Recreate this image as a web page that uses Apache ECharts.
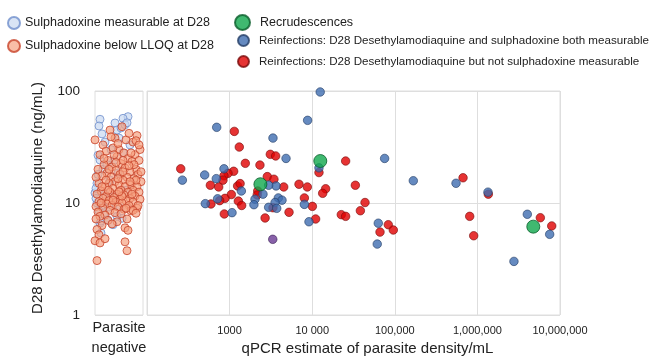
<!DOCTYPE html>
<html>
<head>
<meta charset="utf-8">
<script src="https://cdn.jsdelivr.net/npm/echarts@6/dist/echarts.min.js"></script>
<style>
  html, body { margin: 0; padding: 0; background: #fff; }
  #main { width: 661px; height: 363px; }
</style>
</head>
<body>
<div id="main"></div>
<script>
// parasite negative strip: [jitter, D28 DEAQ ng/mL]
var negMeasurable = [
  [5,55.9],[20,51.8],[33,59],[28,57],[4,48.7],[7,41.4],[22,44.8],[26,46.8],[30,50],
  [3,26.7],[5,24.2],[2,15],[0,12.3],[2,10],[15,16],[23,18.5],[5,6.6],[18,6.4],
  [12,7.1],[27,7.3],[6,5.4],[25,9],[6,6.9],[13,7],[9,8],[1,13.5],[3,18],[8,20],
  [16,30],[10,35],[24,38],[35,33],[19,24],[12,22],[28,28],[31,13],[1,11],[7,9.5],
  [20,11.5],[4,8.5],[10,12],[14,9.2],[22,7.6],[32,52]
];
var negBelowLLOQ = [
  [0,36.6],[8,33],[15,44.8],[20,38],[27,48],[31,36.6],[34,41.9],[38,35],[42,40],[24,30],
  [11,29],[18,31],[29,28],[40,27],[45,30],[5,27],[22,26],[33,25],[13,24],[37,23.5],
  [26,22.5],[44,24],[9,22],[17,21],[30,20.5],[41,20],[3,20],[21,19.5],[35,19],[12,18.5],
  [25,18],[43,18],[7,17.5],[16,17],[32,17],[39,16.5],[28,16],[20,15.5],[46,15.5],[4,15],
  [14,15],[24,14.5],[36,14.5],[10,14],[30,14],[42,14],[18,13.5],[26,13],[38,13],[6,12.8],
  [15,12.5],[33,12.5],[44,12.5],[22,12],[2,12],[29,11.8],[11,11.5],[40,11.5],[19,11.2],[35,11],
  [8,11],[25,10.8],[45,10.8],[14,10.5],[31,10.5],[4,10.3],[21,10.2],[38,10.2],[27,10],[12,9.8],
  [17,9.5],[34,9.5],[1,9.3],[23,9.2],[42,9],[8,9],[29,8.8],[15,8.6],[36,8.5],[3,8.3],
  [20,8.2],[26,8],[10,7.8],[5,7.6],[1,7.2],[13,7],[32,7.2],[22,6.8],[17,6.5],[7,6.3],
  [2,5.8],[4,5.2],[30,6],[33,5.7],[0,4.6],[5,4.4],[10,4.8],[30,4.5],[32,3.75],[2,3.06],
  [16,39],[23,34],[41,36],[44,33],[36,28],[19,27],[9,25],[28,24],[39,22],[14,20],
  [34,21.5],[23,16.5],[11,16],[41,16],[37,12],[27,11.5],[43,9.5],[38,8.6],[41,8.1],[6,10],
  [18,10.6],[31,9],[24,12.6],[13,13],[35,15.5],[28,19],[21,23],[7,14],[46,19],[1,17]
];

// parasite density (qPCR /mL) vs D28 DEAQ ng/mL
var recrudescences = [[2360,14.7],[12530,23.7],[4750000,6.15]];
var reinfBoth = [
  [12500,98],[8800,54.7],[698,47.4],[3350,38],[4820,25],[75300,25],[855,20.2],[268,16],
  [499,17.8],[690,16.5],[1388,12.8],[2536,12],[3650,14.2],[2970,14.4],[2030,10.8],[1970,9.66],
  [3890,11.1],[4310,10.6],[3550,10.1],[2970,9.15],[3720,8.96],[716,10.9],[508,9.87],[1070,8.2],
  [8040,9.72],[9140,6.8],[12080,20.6],[63100,6.6],[61300,4.3],
  [167500,15.8],[551000,15],[1343000,12.5],[4020000,7.93],[7500000,5.25],[2770000,3.01]
];
var reinfDeaqOnly = [
  [1140,43.6],[1310,31.6],[3110,27.2],[3610,26.3],[1550,22.6],[2330,21.8],[256,20.2],[25400,23.7],
  [1120,19.2],[957,18.4],[855,17.5],[831,16],[2860,17.2],[3440,16.3],[585,14.4],[738,13.9],
  [1250,14.2],[1340,14.9],[2190,12.8],[2160,11.8],[4520,13.9],[6920,14.7],[8730,13.9],[14550,13.4],
  [13390,12.2],[33300,14.4],[1050,11.9],[879,11],[759,10.5],[595,9.8],[1276,10.4],[1400,9.5],
  [863,7.98],[8040,11.1],[10050,9.33],[5240,8.26],[2690,7.35],[3350,9.08],[11000,7.2],[22500,7.87],
  [25400,7.6],[38300,8.53],[43600,10.1],[12080,18.7],[66200,5.5],[83400,6.4],[95900,5.74],
  [670000,16.8],[1356000,12],[807000,7.6],[902000,5.1],[5780000,7.39],[7940000,6.24]
];
var overlapPoint = [[3330,4.74]];

var xTickValues = [100, 1000, 10000, 100000, 1000000, 10000000];
var xTickLabels = ['', '1000', '10 000', '100,000', '1,000,000', '10,000,000'];

var myChart = echarts.init(document.getElementById('main'));
var gridLine = '#dedede';
var font = 'Liberation Sans, Arial, sans-serif';

var option = {
  backgroundColor: '#fff',
  animation: false,
  textStyle: { fontFamily: font, color: '#222' },
  legend: [
    {
      data: ['Sulphadoxine measurable at D28', 'Sulphadoxine below LLOQ at D28'],
      orient: 'vertical', left: 2, top: 11, itemWidth: 12, itemHeight: 12, itemGap: 9,
      icon: 'circle',
      textStyle: { fontSize: 12.5, color: '#222' }
    },
    {
      data: ['Recrudescences'],
      left: 229, top: 9, itemWidth: 15, itemHeight: 15, icon: 'circle',
      textStyle: { fontSize: 12.5, color: '#222', padding: [0, 0, 0, 5] }
    },
    {
      data: ['Reinfections: D28 Desethylamodiaquine and sulphadoxine both measurable',
             'Reinfections: D28 Desethylamodiaquine but not sulphadoxine measurable'],
      orient: 'vertical', left: 232, top: 29, itemWidth: 11, itemHeight: 11, itemGap: 8,
      icon: 'circle',
      textStyle: { fontSize: 11.6, color: '#222', padding: [0, 0, 0, 5] }
    }
  ],
  grid: [
    { left: 95, top: 91, width: 48, height: 224, show: true, borderColor: gridLine, borderWidth: 1,
      outerBoundsMode: 'none' },
    { left: 147, top: 91, width: 413, height: 224, show: true, borderColor: gridLine, borderWidth: 1,
      outerBoundsMode: 'none' }
  ],
  xAxis: [
    {
      gridIndex: 0, type: 'value', min: 0, max: 48,
      axisLine: { show: false }, axisTick: { show: false }, axisLabel: { show: false },
      splitLine: { show: false },
      name: 'Parasite\nnegative', nameLocation: 'middle', nameGap: 3,
      nameTextStyle: { fontSize: 14.5, lineHeight: 20, color: '#222', verticalAlign: 'top' }
    },
    {
      gridIndex: 1, type: 'log', logBase: 10, min: 100, max: 10000000,
      axisLine: { show: false }, axisTick: { show: false },
      axisLabel: {
        fontSize: 11, color: '#222', margin: 10,
        formatter: function (v) {
          var i = xTickValues.indexOf(Math.round(v));
          return i >= 0 ? xTickLabels[i] : '';
        }
      },
      splitLine: { show: true, lineStyle: { color: gridLine } },
      name: 'qPCR estimate of parasite density/mL', nameLocation: 'middle', nameGap: 26,
      nameTextStyle: { fontSize: 15, color: '#222', padding: [0, 0, 0, 28] }
    }
  ],
  yAxis: [
    {
      gridIndex: 0, type: 'log', logBase: 10, min: 1, max: 100,
      axisLine: { show: false }, axisTick: { show: false },
      axisLabel: { fontSize: 13.5, color: '#222', margin: 15 },
      splitLine: { show: true, lineStyle: { color: gridLine } },
      name: 'D28 Desethylamodiaquine (ng/mL)', nameLocation: 'middle', nameGap: 50,
      nameTextStyle: { fontSize: 15, color: '#222', padding: [0, 0, 0, 10] }
    },
    {
      gridIndex: 1, type: 'log', logBase: 10, min: 1, max: 100,
      axisLine: { show: false }, axisTick: { show: false }, axisLabel: { show: false },
      splitLine: { show: true, lineStyle: { color: gridLine } }
    }
  ],
  series: [
    {
      name: 'Sulphadoxine measurable at D28', type: 'scatter', xAxisIndex: 0, yAxisIndex: 0,
      symbolSize: 8, data: negMeasurable,
      itemStyle: { color: 'rgba(200,215,240,0.85)', borderColor: '#6f8fcc', borderWidth: 1 }
    },
    {
      name: 'Sulphadoxine below LLOQ at D28', type: 'scatter', xAxisIndex: 0, yAxisIndex: 0,
      symbolSize: 8, data: negBelowLLOQ,
      itemStyle: { color: 'rgba(246,160,126,0.85)', borderColor: '#c8442a', borderWidth: 1 }
    },
    {
      name: 'Reinfections: D28 Desethylamodiaquine but not sulphadoxine measurable',
      type: 'scatter', xAxisIndex: 1, yAxisIndex: 1, symbolSize: 8.5, data: reinfDeaqOnly,
      itemStyle: { color: '#e00000', borderColor: '#7a0c0c', borderWidth: 0.8 }
    },
    {
      name: 'Reinfections: D28 Desethylamodiaquine and sulphadoxine both measurable',
      type: 'scatter', xAxisIndex: 1, yAxisIndex: 1, symbolSize: 8.5, data: reinfBoth,
      itemStyle: { color: '#3f6db0', borderColor: '#253f66', borderWidth: 0.8 }
    },
    {
      name: 'overlap', type: 'scatter', xAxisIndex: 1, yAxisIndex: 1, symbolSize: 8.5,
      data: overlapPoint,
      itemStyle: { color: '#6a3a94', borderColor: '#3a1f55', borderWidth: 0.8 }
    },
    {
      name: 'Recrudescences', type: 'scatter', xAxisIndex: 1, yAxisIndex: 1, symbolSize: 13,
      data: recrudescences,
      itemStyle: { color: '#10a84c', borderColor: '#0b5e2c', borderWidth: 1 }
    }
  ]
};

myChart.setOption(option);
window.addEventListener('resize', function () { myChart.resize(); });
</script>
</body>
</html>
